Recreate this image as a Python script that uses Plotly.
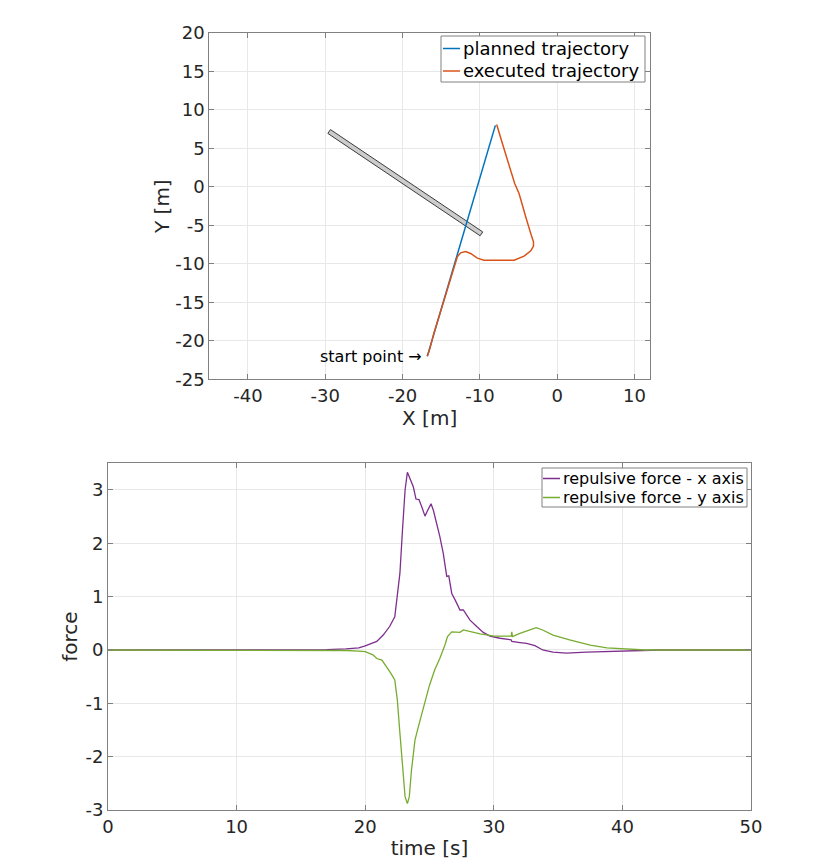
import plotly.graph_objects as go

# --- trajectory data (top plot) ---
planned_x = [-16.8, -8.0]
planned_y = [-22.0, 8.0]

executed_x = [-16.81, -16.47, -15.96, -14.66, -13.37, -12.92, -12.5, -11.85, -11.2,
              -10.33, -9.47, -7.31, -5.58, -4.29, -3.42, -3.07, -3.07, -3.29, -3.64,
              -4.07, -4.5, -4.94, -5.5, -5.92, -6.44, -7.09, -7.83]
executed_y = [-21.99, -20.99, -19.04, -14.71, -10.39, -9.09, -8.57, -8.39, -8.65,
              -9.26, -9.52, -9.56, -9.52, -9.0, -8.31, -7.7, -7.14, -6.49, -5.19,
              -3.9, -2.38, -0.86, 0.44, 1.74, 3.47, 5.63, 8.1]

# obstacle (wall) corners
wall_x = [-29.33, -9.63, -9.97, -29.67, -29.33]
wall_y = [7.45, -5.85, -6.35, 6.95, 7.45]

# --- repulsive force data (bottom plot) ---
t_fx = [0, 10.8, 11.0, 11.3, 11.6, 14, 17, 18.5, 19.5, 20.0, 20.6, 20.9, 21.4, 21.9,
        22.3, 22.5, 22.7, 22.9, 23.1, 23.28, 23.48, 23.74, 23.95, 24.18, 24.39, 24.65,
        24.86, 25.12, 25.3, 25.56, 25.8, 26.07, 26.34, 26.5, 26.73, 26.99, 27.37, 27.63,
        28.15, 28.67, 29.18, 29.7, 30.48, 31.35, 31.4, 32.04, 32.55, 33.2, 33.8, 34.6,
        35.65, 37.2, 38.8, 40.3, 41.8, 43, 50]
fx = [0, 0, 0.01, 0.01, 0, 0, 0.005, 0.02, 0.04, 0.075, 0.14, 0.16, 0.28, 0.44,
      0.62, 1.0, 1.44, 2.25, 3.0, 3.33, 3.22, 3.06, 2.83, 2.82, 2.69, 2.51,
      2.62, 2.74, 2.62, 2.38, 2.13, 1.81, 1.38, 1.39, 1.06, 0.94, 0.75, 0.75,
      0.56, 0.44, 0.33, 0.26, 0.22, 0.19, 0.16, 0.14, 0.125, 0.08, 0.0, -0.04,
      -0.06, -0.04, -0.03, -0.01, 0, 0, 0]

t_fy = [0, 14, 17, 18.5, 19.5, 20.0, 20.6, 20.9, 21.3, 21.67, 22.0, 22.3, 22.5, 22.7,
        22.9, 23.1, 23.28, 23.43, 23.6, 23.87, 24.13, 24.39, 24.73, 25.0, 25.4, 25.8,
        26.2, 26.4, 26.73, 27.1, 27.37, 27.63, 28.15, 28.93, 30.04, 31.0, 31.35, 31.4,
        31.45, 32.03, 32.8, 33.3, 33.8, 34.6, 35.9, 37.5, 38.8, 40.0, 41.8, 50]
fy = [0, 0, -0.005, -0.01, -0.02, -0.03, -0.09, -0.16, -0.19, -0.31, -0.44, -0.56, -0.94, -1.56,
      -2.19, -2.75, -2.88, -2.75, -2.25, -1.69, -1.44, -1.19, -0.88, -0.66, -0.375, -0.16,
      0.094, 0.25, 0.34, 0.33, 0.33, 0.375, 0.34, 0.3, 0.26, 0.26, 0.26, 0.34,
      0.25, 0.31, 0.375, 0.42, 0.375, 0.28, 0.19, 0.09, 0.04, 0.02, 0, 0]

top_xticks = [-40, -30, -20, -10, 0, 10]
top_yticks = [-25, -20, -15, -10, -5, 0, 5, 10, 15, 20]
bot_xticks = [0, 10, 20, 30, 40, 50]
bot_yticks = [-3, -2, -1, 0, 1, 2, 3]

top_names = ["planned trajectory", "executed trajectory"]
top_colors = ["#0072BD", "#D95319"]
bot_names = ["repulsive force - x axis", "repulsive force - y axis"]
bot_colors = ["#7E2F8E", "#77AC30"]

FONT = "DejaVu Sans"
TXT = "#262626"
AX = "#808080"
GRID = "#e8e8e8"

# page layout in pixels; the page body adds an 8px margin, so the figure is
# 8px smaller and every window position is shifted by that amount
BODY = 8
W, H = 830 - BODY, 862 - BODY
ML = 108 - BODY
MR = W - (751 - BODY)
MT = 33 - BODY
MB = H - (810 - BODY)


def px2x(px):
    return (px - BODY - ML) / (W - ML - MR)


def py2y(py):
    return (H - MB - (py - BODY)) / (H - MT - MB)


fig = go.Figure()

fig.add_trace(go.Scatter(x=wall_x, y=wall_y, mode="lines", fill="toself",
                         fillcolor="#cccccc", line=dict(color="#3c3c3c", width=1),
                         showlegend=False, hoverinfo="skip", xaxis="x", yaxis="y"))
fig.add_trace(go.Scatter(x=planned_x, y=planned_y, mode="lines", name=top_names[0],
                         line=dict(color=top_colors[0], width=1.5), xaxis="x", yaxis="y",
                         showlegend=False))
fig.add_trace(go.Scatter(x=executed_x, y=executed_y, mode="lines", name=top_names[1],
                         line=dict(color=top_colors[1], width=1.5), xaxis="x", yaxis="y",
                         showlegend=False))

fig.add_trace(go.Scatter(x=t_fx, y=fx, mode="lines", name=bot_names[0],
                         line=dict(color=bot_colors[0], width=1.3), xaxis="x2", yaxis="y2",
                         showlegend=False))
fig.add_trace(go.Scatter(x=t_fy, y=fy, mode="lines", name=bot_names[1],
                         line=dict(color=bot_colors[1], width=1.3), xaxis="x2", yaxis="y2",
                         showlegend=False))


def ax_style(ticks, title, standoff):
    return dict(
        tickvals=ticks, ticktext=[str(v) for v in ticks],
        ticks="inside", ticklen=5, tickcolor=AX, tickwidth=1,
        showline=True, linecolor=AX, linewidth=1, mirror="ticks",
        showgrid=True, gridcolor=GRID, gridwidth=1, zeroline=False,
        automargin=False,
        tickfont=dict(family=FONT, size=18, color=TXT),
        title=dict(text=title, font=dict(family=FONT, size=20, color=TXT), standoff=standoff),
    )


# MATLAB-style boxed legends, drawn with shapes and text
shapes = []
annotations = []


def add_legend(box, line_x, rows_y, names, colors, size):
    x0, x1, y0, y1 = box
    shapes.append(dict(type="rect", xref="paper", yref="paper",
                       x0=px2x(x0), x1=px2x(x1), y0=py2y(y1), y1=py2y(y0),
                       fillcolor="white", line=dict(color=AX, width=1), layer="above"))
    for name, color, ry in zip(names, colors, rows_y):
        shapes.append(dict(type="line", xref="paper", yref="paper",
                           x0=px2x(line_x[0]), x1=px2x(line_x[1]), y0=py2y(ry), y1=py2y(ry),
                           line=dict(color=color, width=1.5), layer="above"))
        annotations.append(dict(xref="paper", yref="paper", x=px2x(line_x[1] + 1), y=py2y(ry),
                                text=name, showarrow=False, xanchor="left", yanchor="middle",
                                font=dict(family=FONT, size=size, color="black")))


add_legend((441, 645, 36, 82), (443, 460), (48.5, 71), top_names, top_colors, 18)
add_legend((542, 747, 468, 507), (543, 560), (478.5, 497.5), bot_names, bot_colors, 16)

annotations.append(dict(x=executed_x[0], y=executed_y[0], xref="x", yref="y",
                        text="start point →", showarrow=False, xanchor="right",
                        yanchor="middle", xshift=-3,
                        font=dict(family=FONT, size=16, color="black")))

fig.update_layout(
    width=W, height=H,
    margin=dict(l=ML, r=MR, t=MT, b=MB),
    paper_bgcolor="white", plot_bgcolor="white",
    font=dict(family=FONT, color=TXT),
    showlegend=False,
    xaxis=dict(domain=[px2x(209.3), px2x(650)], range=[-45, 12], anchor="y",
               **ax_style(top_xticks, "X [m]", 2)),
    yaxis=dict(domain=[py2y(379.3), py2y(33)], range=[-25, 20], anchor="x",
               **ax_style(top_yticks, "Y [m]", 0)),
    xaxis2=dict(domain=[0, 1], range=[0, 50], anchor="y2",
                **ax_style(bot_xticks, "time [s]", 5)),
    yaxis2=dict(domain=[0, py2y(463.3)], range=[-3, 3.5], anchor="x2",
                **ax_style(bot_yticks, "force", 2)),
    shapes=shapes,
    annotations=annotations,
)

fig.write_html("out.html")
